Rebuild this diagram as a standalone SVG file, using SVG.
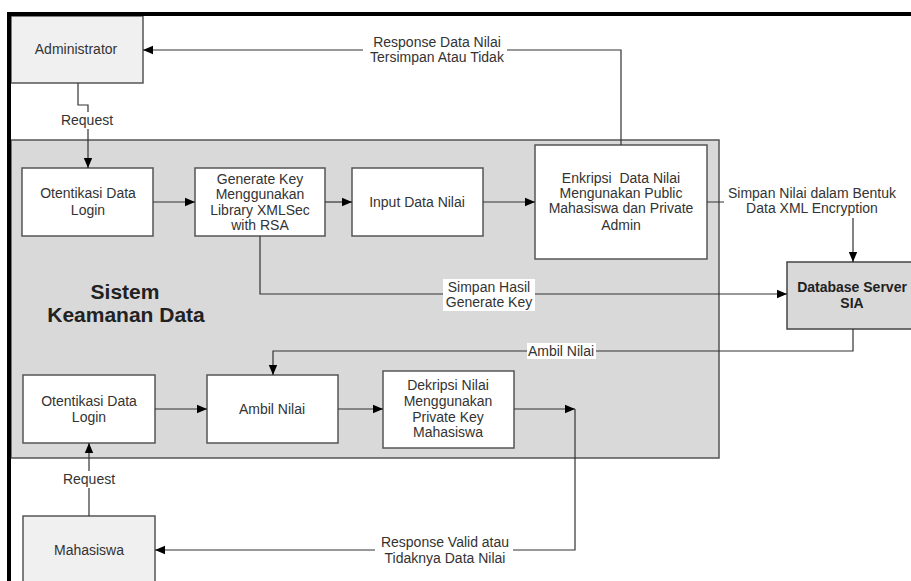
<svg xmlns="http://www.w3.org/2000/svg" width="911" height="581" viewBox="0 0 911 581">
<defs>
<marker id="arr" markerUnits="userSpaceOnUse" markerWidth="10" markerHeight="10" viewBox="0 0 10 10" refX="10" refY="5" orient="auto">
<path d="M0,0.8 L10,5 L0,9.2 Z" fill="#000"/>
</marker>
<style>
text{font-family:"Liberation Sans",Arial,sans-serif;font-size:14px;fill:#333;text-anchor:middle}
.box{fill:#fff;stroke:#555;stroke-width:1.5}
.actor{fill:#f0f0f0;stroke:#555;stroke-width:1.5}
.db{fill:#d9d9d9;stroke:#444;stroke-width:1.5}
.conn{fill:none;stroke:#333;stroke-width:1.2}
.lbl{fill:#fff;stroke:none}
.bold{font-weight:bold;fill:#222}
</style>
</defs>
<rect x="0" y="0" width="911" height="581" fill="#fff"/>

<g id="sistem-keamanan-data">
<rect x="11" y="140" width="708" height="318" fill="#d9d9d9" stroke="#555" stroke-width="1.5"/>
<text class="bold" x="125" y="299" style="font-size:21px">Sistem</text>
<text class="bold" x="126" y="322" style="font-size:21px">Keamanan Data</text>
</g>

<g id="administrator">
<rect class="actor" x="11" y="16" width="132" height="67"/>
<text x="76" y="54">Administrator</text>
</g>

<g id="otentikasi-admin">
<rect class="box" x="22" y="168" width="131" height="68"/>
<text x="88" y="198">Otentikasi Data</text>
<text x="88" y="215">Login</text>
</g>

<g id="generate-key">
<rect class="box" x="195" y="168" width="130" height="68"/>
<text x="260" y="184">Generate Key</text>
<text x="260" y="199">Menggunakan</text>
<text x="260" y="215">Library XMLSec</text>
<text x="260" y="230">with RSA</text>
</g>

<g id="input-data-nilai">
<rect class="box" x="352" y="168" width="131" height="68"/>
<text x="417" y="207">Input Data Nilai</text>
</g>

<g id="enkripsi">
<rect class="box" x="535" y="145" width="172" height="114"/>
<text x="621" y="183" style="white-space:pre">Enkripsi  Data Nilai</text>
<text x="621" y="198">Mengunakan Public</text>
<text x="621" y="213">Mahasiswa dan Private</text>
<text x="621" y="230">Admin</text>
</g>

<g id="database-server">
<rect class="db" x="787" y="262" width="132" height="67"/>
<text class="bold" x="852" y="292">Database Server</text>
<text class="bold" x="852" y="308">SIA</text>
</g>

<g id="otentikasi-mhs">
<rect class="box" x="23" y="375" width="132" height="68"/>
<text x="89" y="406">Otentikasi Data</text>
<text x="89" y="422">Login</text>
</g>

<g id="ambil-nilai">
<rect class="box" x="207" y="375" width="131" height="68"/>
<text x="272" y="414">Ambil Nilai</text>
</g>

<g id="dekripsi">
<rect class="box" x="383" y="371" width="131" height="77"/>
<text x="448" y="390">Dekripsi Nilai</text>
<text x="448" y="406">Menggunakan</text>
<text x="448" y="422">Private Key</text>
<text x="448" y="437">Mahasiswa</text>
</g>

<g id="mahasiswa">
<rect class="actor" x="23" y="516" width="132" height="80"/>
<text x="89" y="555">Mahasiswa</text>
</g>

<g id="connectors">
<path class="conn" d="M621,145 V50 H143" marker-end="url(#arr)"/>
<rect class="lbl" x="363" y="34" width="144" height="30"/>
<text x="437" y="47">Response Data Nilai</text>
<text x="437" y="62">Tersimpan Atau Tidak</text>

<path class="conn" d="M78,83 V105 H88 V168" marker-end="url(#arr)"/>
<rect class="lbl" x="60" y="112" width="54" height="17"/>
<text x="87" y="125">Request</text>

<path class="conn" d="M153,202 H195" marker-end="url(#arr)"/>
<path class="conn" d="M325,202 H352" marker-end="url(#arr)"/>
<path class="conn" d="M483,202 H535" marker-end="url(#arr)"/>

<path class="conn" d="M707,202 H853 V262" marker-end="url(#arr)"/>
<rect class="lbl" x="724" y="185" width="176" height="33"/>
<text x="812" y="198">Simpan Nilai dalam Bentuk</text>
<text x="812" y="213">Data XML Encryption</text>

<path class="conn" d="M260,236 V294 H787" marker-end="url(#arr)"/>
<rect class="lbl" x="443" y="279" width="92" height="32"/>
<text x="489" y="292">Simpan Hasil</text>
<text x="489" y="307">Generate Key</text>

<path class="conn" d="M853,329 V351 H273 V375" marker-end="url(#arr)"/>
<rect class="lbl" x="527" y="343" width="69" height="16"/>
<text x="561" y="356">Ambil Nilai</text>

<path class="conn" d="M155,409 H207" marker-end="url(#arr)"/>
<path class="conn" d="M338,409 H383" marker-end="url(#arr)"/>
<path class="conn" d="M514,409 H575" marker-end="url(#arr)"/>

<path class="conn" d="M575,409 V550 H155" marker-end="url(#arr)"/>
<rect class="lbl" x="375" y="534" width="138" height="32"/>
<text x="445" y="547">Response Valid atau</text>
<text x="445" y="563">Tidaknya Data Nilai</text>

<path class="conn" d="M89,516 V443" marker-end="url(#arr)"/>
<rect class="lbl" x="62" y="471" width="54" height="17"/>
<text x="89" y="484">Request</text>
</g>

<g id="frame">
<path d="M9,581 V14 H911" fill="none" stroke="#000" stroke-width="4"/>
</g>
</svg>
